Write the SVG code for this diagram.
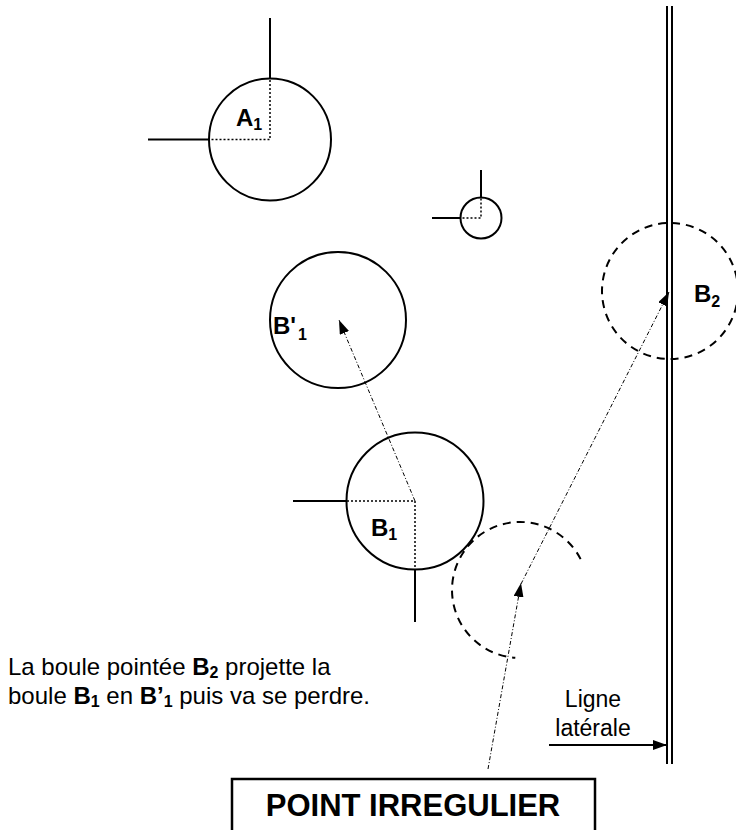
<svg xmlns="http://www.w3.org/2000/svg" width="736" height="830" viewBox="0 0 736 830">
<style>
.s{fill:none;stroke:#000;stroke-width:2}
.dot{fill:none;stroke:#000;stroke-width:1.5;stroke-dasharray:2 2}
.dash{fill:none;stroke:#000;stroke-width:2;stroke-dasharray:8 6}
.dd{fill:none;stroke:#000;stroke-width:1;stroke-dasharray:4 2 1 2}
.lbl{font-family:"Liberation Sans",Arial,sans-serif;font-weight:bold;font-size:24px;fill:#000}
.sub{font-size:16px}
.txt{font-family:"Liberation Sans",Arial,sans-serif;font-size:24px;fill:#000}
.b{font-weight:bold}
</style>
<defs>
<marker id="ah" markerWidth="14" markerHeight="10" refX="14" refY="5" orient="auto" markerUnits="userSpaceOnUse">
<path d="M0,0 L14,5 L0,10 Z" fill="#000"/>
</marker>
</defs>
<rect width="736" height="830" fill="#fff"/>

<g id="lateral-line">
<line class="s" x1="667" y1="6" x2="667" y2="764"/>
<line class="s" x1="672" y1="6" x2="672" y2="764"/>
</g>

<g id="A1">
<circle class="s" cx="270" cy="139.5" r="61"/>
<line class="s" x1="270" y1="18" x2="270" y2="78.5"/>
<line class="s" x1="148" y1="139.5" x2="209" y2="139.5"/>
<path class="dot" d="M270,80 V139.5 H210"/>
<text class="lbl" x="236" y="126">A<tspan class="sub" dy="4">1</tspan></text>
</g>

<g id="small-ball">
<circle class="s" cx="481" cy="218" r="20.5"/>
<line class="s" x1="481" y1="170" x2="481" y2="197.5"/>
<line class="s" x1="432" y1="218" x2="460.5" y2="218"/>
<path class="dot" d="M481,198.5 V218 H461.5"/>
</g>

<g id="B1prime">
<circle class="s" cx="338" cy="320" r="68"/>
<text class="lbl" x="273" y="334">B'<tspan class="sub" dx="2" dy="6">1</tspan></text>
</g>

<g id="B2">
<circle class="dash" cx="670" cy="291" r="68"/>
<text class="lbl" x="694" y="302">B<tspan class="sub" dy="5">2</tspan></text>
</g>

<g id="B1">
<circle class="s" cx="415" cy="501" r="68.5"/>
<line class="s" x1="293" y1="501" x2="346.5" y2="501"/>
<line class="s" x1="415" y1="569.5" x2="415" y2="622"/>
<path class="dot" d="M347,501 H415 V569"/>
<text class="lbl" x="371" y="536">B<tspan class="sub" dy="4">1</tspan></text>
</g>

<g id="impact-arc">
<path class="dash" d="M580.6,559.1 A68,68 0 1,0 515.3,657.8"/>
</g>

<g id="connectors">
<line class="dd" x1="415" y1="501" x2="339" y2="320" marker-end="url(#ah)"/>
<line class="dd" x1="488" y1="769" x2="521" y2="583" marker-end="url(#ah)"/>
<line class="dd" x1="521" y1="584" x2="669" y2="292" marker-end="url(#ah)"/>
<line class="s" x1="549" y1="745" x2="667" y2="745" marker-end="url(#ah)"/>
</g>

<g id="caption">
<text class="txt" x="8" y="675">La boule pointée <tspan class="b">B</tspan><tspan class="b sub" dy="3">2</tspan><tspan dy="-3"> projette la</tspan></text>
<text class="txt" x="8" y="703.5">boule <tspan class="b">B</tspan><tspan class="b sub" dy="3">1</tspan><tspan dy="-3"> en </tspan><tspan class="b">B’</tspan><tspan class="b sub" dy="3">1</tspan><tspan dy="-3"> puis va se perdre.</tspan></text>
</g>

<g id="lateral-label">
<text class="txt" x="593" y="707" text-anchor="middle" style="font-size:23px">Ligne</text>
<text class="txt" x="593" y="736" text-anchor="middle" style="font-size:23px">latérale</text>
</g>

<g id="point-irregulier">
<rect class="s" x="232" y="779" width="363" height="70" style="stroke-width:2.5"/>
<text x="413" y="816" text-anchor="middle" style="font-family:'Liberation Sans',Arial,sans-serif;font-weight:bold;font-size:31px">POINT IRREGULIER</text>
</g>
</svg>
